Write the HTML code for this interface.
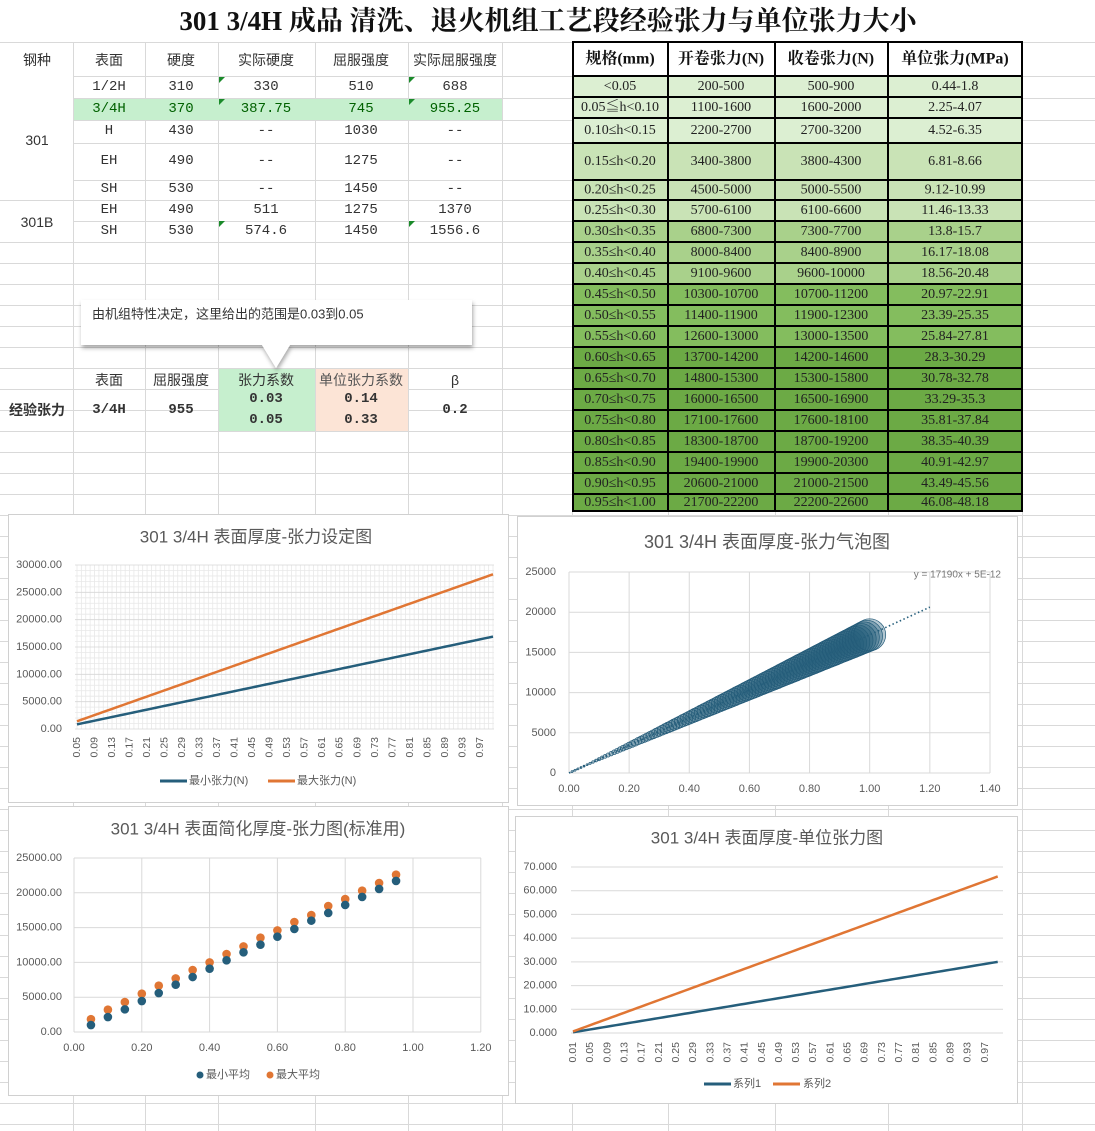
<!DOCTYPE html>
<html><head><meta charset="utf-8">
<style>
html,body{margin:0;padding:0;background:#fff;}
#wrap{position:relative;width:1095px;height:1131px;overflow:hidden;}
svg{position:absolute;left:0;top:0;}
</style></head>
<body><div id="wrap"><svg id="s" width="1095" height="1131" xmlns="http://www.w3.org/2000/svg"></svg></div>
<script>
const S=document.getElementById('s');let h='';
const SANS='"Liberation Sans","Noto Sans CJK SC",sans-serif';
const MONO='"Liberation Mono","Noto Sans CJK SC",monospace';
const SERIF='"Liberation Serif","Noto Serif CJK SC",serif';
function L(x1,y1,x2,y2,c,w,extra){h+=`<line x1="${x1}" y1="${y1}" x2="${x2}" y2="${y2}" stroke="${c}" stroke-width="${w||1}" ${extra||''}/>`;}
function R(x,y,w,hh,f,extra){h+=`<rect x="${x}" y="${y}" width="${w}" height="${hh}" fill="${f}" ${extra||''}/>`;}
function T(x,y,t,o){o=o||{};h+=`<text x="${x}" y="${y}" font-family='${o.f||SANS}' font-size="${o.s||14}" fill="${o.c||'#333'}" text-anchor="${o.a||'middle'}" ${o.b?'font-weight="bold"':''} ${o.tr?`transform="${o.tr}"`:''} dominant-baseline="central">${t}</text>`;}
const GC='#d9d9d9';
const cols=[73,145,218,315,408,502,572,668,775,888,1022,1095];
let rows=[42,76,98,120,143,180,200,221,242];
for(let y=263;y<1131;y+=21)rows.push(y);
rows.forEach(y=>L(0,y+.5,1095,y+.5,GC));
cols.forEach(x=>L(x+.5,42,x+.5,1131,GC));
R(0,43,73,156,'#fff');R(0,201,73,41,'#fff');
R(0,0,1095,42,'#fff');
T(548,21,'301 3/4H 成品 清洗、退火机组工艺段经验张力与单位张力大小',{f:SERIF,s:27,c:'#111',b:1});
L(0,42.5,572,42.5,GC);
const hdr=['钢种','表面','硬度','实际硬度','屈服强度','实际屈服强度'];
const cx=[37,109,181,266,361,455];
hdr.forEach((t,i)=>T(cx[i],60,t,{s:14}));
R(74,99,428,21,'#c6efce');
const data=[[87,'1/2H','310','330','510','688',1],[109,'3/4H','370','387.75','745','955.25',1],[131,'H','430','--','1030','--'],[161,'EH','490','--','1275','--'],[189,'SH','530','--','1450','--'],[210,'EH','490','511','1275','1370'],[231,'SH','530','574.6','1450','1556.6',1]];
data.forEach(r=>{for(let i=1;i<6;i++)T(cx[i],r[0],r[i],{f:MONO,s:14,c:r[1]=='3/4H'?'#006100':'#333'});
 if(r[6]){const y=r[0]-10;h+=`<polygon points="219,${y} 225,${y} 219,${y+6}" fill="#1a8a2a"/><polygon points="409,${y} 415,${y} 409,${y+6}" fill="#1a8a2a"/>`;}});
T(37,140,'301',{s:14});T(37,222,'301B',{s:14});
R(219,369,96,62,'#c6efce');R(316,369,92,62,'#fce4d6');
T(109,380,'表面');T(181,380,'屈服强度');T(266,380,'张力系数');T(361,380,'单位张力系数',{c:'#555'});T(455,380,'β');
T(37,410,'经验张力',{b:1});T(109,410,'3/4H',{f:MONO,b:1});T(181,410,'955',{f:MONO,b:1});
T(266,399,'0.03',{f:MONO,b:1});T(266,420,'0.05',{f:MONO,b:1});T(361,399,'0.14',{f:MONO,b:1});T(361,420,'0.33',{f:MONO,b:1});T(455,410,'0.2',{f:MONO,b:1});
h+=`<defs><filter id="sh" x="-10%" y="-30%" width="120%" height="170%"><feDropShadow dx="1" dy="3" stdDeviation="2" flood-color="#000" flood-opacity="0.35"/></filter></defs>`;
h+=`<path d="M81,300 H472 V345 H290 L276,368 L262,345 H81 Z" fill="#fff" filter="url(#sh)"/>`;
T(92,314,'由机组特性决定，这里给出的范围是0.03到0.05',{a:'start',s:13,c:'#333'});
const rb=[76,97,118,143,180,200,221,242,263,284,305,326,347,368,389,410,431,452,473,494,511];
const rt=[['&lt;0.05','200-500','500-900','0.44-1.8'],['0.05≦h&lt;0.10','1100-1600','1600-2000','2.25-4.07'],['0.10≤h&lt;0.15','2200-2700','2700-3200','4.52-6.35'],['0.15≤h&lt;0.20','3400-3800','3800-4300','6.81-8.66'],['0.20≤h&lt;0.25','4500-5000','5000-5500','9.12-10.99'],['0.25≤h&lt;0.30','5700-6100','6100-6600','11.46-13.33'],['0.30≤h&lt;0.35','6800-7300','7300-7700','13.8-15.7'],['0.35≤h&lt;0.40','8000-8400','8400-8900','16.17-18.08'],['0.40≤h&lt;0.45','9100-9600','9600-10000','18.56-20.48'],['0.45≤h&lt;0.50','10300-10700','10700-11200','20.97-22.91'],['0.50≤h&lt;0.55','11400-11900','11900-12300','23.39-25.35'],['0.55≤h&lt;0.60','12600-13000','13000-13500','25.84-27.81'],['0.60≤h&lt;0.65','13700-14200','14200-14600','28.3-30.29'],['0.65≤h&lt;0.70','14800-15300','15300-15800','30.78-32.78'],['0.70≤h&lt;0.75','16000-16500','16500-16900','33.29-35.3'],['0.75≤h&lt;0.80','17100-17600','17600-18100','35.81-37.84'],['0.80≤h&lt;0.85','18300-18700','18700-19200','38.35-40.39'],['0.85≤h&lt;0.90','19400-19900','19900-20300','40.91-42.97'],['0.90≤h&lt;0.95','20600-21000','21000-21500','43.49-45.56'],['0.95≤h&lt;1.00','21700-22200','22200-22600','46.08-48.18']];
const rc=['#dcefd2','#dcefd2','#dcefd2','#c9e3b6','#c9e3b6','#c9e3b6','#a9d18b','#a9d18b','#a9d18b','#84bd5e','#84bd5e','#84bd5e','#6caa45','#6caa45','#6caa45','#6caa45','#6caa45','#6caa45','#6caa45','#6caa45'];
const tx=[573,668,775,888,1022],tcx=[620,721,831,955];
R(573,42,449,34,'#fff');
['规格(mm)','开卷张力(N)','收卷张力(N)','单位张力(MPa)'].forEach((t,i)=>T(tcx[i],59,t,{f:SERIF,s:16,b:1,c:'#111'}));
rt.forEach((r,k)=>{R(573,rb[k],449,rb[k+1]-rb[k],rc[k]);r.forEach((t,i)=>T(tcx[i],(rb[k]+rb[k+1])/2,t,{f:SERIF,s:14,c:'#222'}));});
[42].concat(rb).forEach(y=>L(572,y,1023,y,'#000',2));
tx.forEach(x=>L(x,41,x,512,'#000',2));
const TC='#595959',B='#255e7b',O='#e07634';
function box(x,y,w,hh){R(x+.5,y+.5,w,hh,'#fff','stroke="#d0d0d0"');}
box(8,514,500,288);
T(256,537,'301 3/4H 表面厚度-张力设定图',{s:17,c:TC});
{const x0=77,st=(493-77)/95,y0=729,ys=164/30000;
for(let i=0;i<=95;i++)L(x0+i*st,565,x0+i*st,729,'#e8e8e8',.8);
for(let v=0;v<=30000;v+=1000)L(75,y0-v*ys,494,y0-v*ys,v%5000?'#e8e8e8':'#d6d6d6',.8);
for(let v=0;v<=30000;v+=5000)T(62,y0-v*ys,v.toFixed(2),{a:'end',s:11,c:TC});
for(let i=0;i<=92;i+=4){const x=x0+i*st;T(x,737,(0.05+i/100).toFixed(2),{a:'end',s:10.5,c:TC,tr:`rotate(-90 ${x} 737)`});}
let p1='',p2='';for(let i=0;i<=95;i++){const hv=0.05+i/100,x=x0+i*st;p1+=`${x},${y0-16900*hv*ys} `;p2+=`${x},${y0-28300*hv*ys} `;}
h+=`<polyline points="${p1}" fill="none" stroke="${B}" stroke-width="2.5"/><polyline points="${p2}" fill="none" stroke="${O}" stroke-width="2.5"/>`;
L(160,781,187,781,B,3);T(189,781,'最小张力(N)',{a:'start',s:11,c:TC});L(268,781,295,781,O,3);T(297,781,'最大张力(N)',{a:'start',s:11,c:TC});}
box(517,516,500,289);
T(767,542,'301 3/4H 表面厚度-张力气泡图',{s:18,c:TC});
{const x0=569,xs=300.7,y0=773,ys=201/25000;
for(let v=0;v<=1.41;v+=0.2)L(x0+v*xs,572,x0+v*xs,773,GC);
for(let v=0;v<=25000;v+=5000)L(x0,y0-v*ys,990,y0-v*ys,GC);
for(let v=0;v<=25000;v+=5000)T(556,y0-v*ys,v,{a:'end',s:11,c:TC});
for(let k=0;k<=7;k++)T(x0+k*0.2*xs,789,(k*0.2).toFixed(2),{s:11,c:TC});
for(let i=1;i<=100;i++){const hv=i/100;h+=`<circle cx="${x0+hv*xs}" cy="${y0-17190*hv*ys}" r="${Math.max(1,16*hv)}" fill="rgba(37,94,123,0.35)" stroke="#235a78" stroke-width="0.7"/>`;}
L(x0,y0,x0+1.2*xs,y0-20628*ys,'#255e7b',1.6,'stroke-dasharray="1.5 2.5"');
T(1001,575,'y = 17190x + 5E-12',{a:'end',s:10,c:'#777'});}
box(8,806,500,289);
T(258,829,'301 3/4H 表面简化厚度-张力图(标准用)',{s:17,c:TC});
{const x0=74,xs=339,y0=1032,ys=174/25000;
for(let v=0;v<=1.21;v+=0.2)L(x0+v*xs,858,x0+v*xs,1032,GC);
for(let v=0;v<=25000;v+=5000)L(x0,y0-v*ys,481,y0-v*ys,GC);
for(let v=0;v<=25000;v+=5000)T(62,y0-v*ys,v.toFixed(2),{a:'end',s:11,c:TC});
for(let k=0;k<=6;k++)T(x0+k*0.2*xs,1048,(k*0.2).toFixed(2),{s:11,c:TC});
const mn=[1000,2150,3250,4450,5600,6800,7900,9100,10300,11450,12550,13700,14800,16000,17100,18250,19400,20550,21700];
const mx=[1850,3200,4300,5500,6650,7700,8900,10000,11200,12300,13550,14600,15800,16800,18100,19100,20300,21400,22600];
mn.forEach((v,i)=>{const x=x0+(0.05+i*0.05)*xs;h+=`<circle cx="${x}" cy="${y0-mx[i]*ys}" r="4.3" fill="${O}"/><circle cx="${x}" cy="${y0-v*ys}" r="4.3" fill="${B}"/>`;});
h+=`<circle cx="200" cy="1075" r="3.5" fill="${B}"/><circle cx="270" cy="1075" r="3.5" fill="${O}"/>`;
T(206,1075,'最小平均',{a:'start',s:11,c:TC});T(276,1075,'最大平均',{a:'start',s:11,c:TC});}
box(515,816,502,287);
T(767,838,'301 3/4H 表面厚度-单位张力图',{s:17,c:TC});
{const x0=573,st=4.29,y0=1033,ys=166/70;
for(let v=0;v<=70;v+=10)L(571,y0-v*ys,1003,y0-v*ys,GC);
for(let v=0;v<=70;v+=10)T(557,y0-v*ys,v.toFixed(3),{a:'end',s:11,c:TC});
for(let i=0;i<=96;i+=4){const x=x0+i*st;T(x,1042,(0.01+i/100).toFixed(2),{a:'end',s:10.5,c:TC,tr:`rotate(-90 ${x} 1042)`});}
let p1='',p2='';for(let i=0;i<=99;i++){const hv=0.01+i/100,x=x0+i*st;p1+=`${x},${y0-30*hv*ys} `;p2+=`${x},${y0-66*hv*ys} `;}
h+=`<polyline points="${p1}" fill="none" stroke="${B}" stroke-width="2.5"/><polyline points="${p2}" fill="none" stroke="${O}" stroke-width="2.5"/>`;
L(704,1084,731,1084,B,3);T(733,1084,'系列1',{a:'start',s:11,c:TC});L(773,1084,800,1084,O,3);T(803,1084,'系列2',{a:'start',s:11,c:TC});}
S.innerHTML=h;
</script></body></html>
